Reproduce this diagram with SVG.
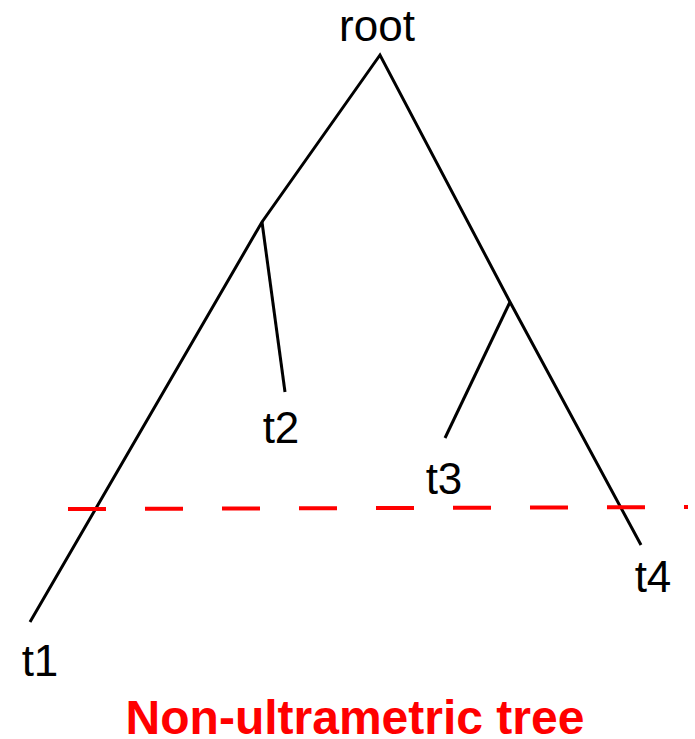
<svg xmlns="http://www.w3.org/2000/svg" width="695" height="739" viewBox="0 0 695 739">
<style>
.edge{fill:none;stroke:#000;stroke-width:3;stroke-linecap:butt;stroke-linejoin:miter}
.lbl{font-family:"Liberation Sans",Arial,sans-serif;font-size:44px;fill:#000;text-anchor:middle}
.cut{fill:none;stroke:#ff0000;stroke-width:4;stroke-dasharray:38 39}
.title{font-family:"Liberation Sans",Arial,sans-serif;font-size:48px;font-weight:bold;fill:#ff0000;text-anchor:middle}
</style>
<rect width="695" height="739" fill="#fff"/>
<g id="connectors">
<polyline class="edge" points="30,622 262,222 380,55 510,302 641,545"/>
<line class="edge" x1="262" y1="222" x2="285" y2="392"/>
<line class="edge" x1="510" y1="302" x2="445" y2="438"/>
</g>
<line class="cut" x1="68" y1="509" x2="688" y2="507"/>
<g id="root"><text class="lbl" x="377" y="41">root</text></g>
<g id="t1"><text class="lbl" x="40" y="676">t1</text></g>
<g id="t2"><text class="lbl" x="281" y="443">t2</text></g>
<g id="t3"><text class="lbl" x="444" y="494">t3</text></g>
<g id="t4"><text class="lbl" x="653" y="592">t4</text></g>
<text class="title" x="355" y="734">Non-ultrametric tree</text>
</svg>
